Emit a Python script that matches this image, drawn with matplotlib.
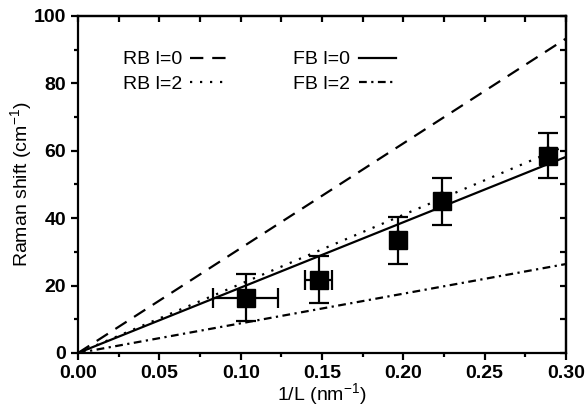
import numpy as np
import matplotlib
matplotlib.use("Agg")
import matplotlib.pyplot as plt
from matplotlib.ticker import MultipleLocator, FormatStrFormatter

plt.rcParams['font.family'] = ['Liberation Sans', 'DejaVu Sans']
plt.rcParams['mathtext.fontset'] = 'custom'
plt.rcParams['mathtext.rm'] = 'Liberation Sans'

# Measured points
inv_L = [0.103, 0.148, 0.197, 0.224, 0.289]
shift = [16.4, 21.8, 33.4, 45.0, 58.6]
shift_err = [7.0, 7.0, 7.0, 7.0, 6.7]
inv_L_err = [0.020, 0.0083, 0.0, 0.0, 0.0]

# Model lines: slope of Raman shift vs 1/L
line_labels = ['RB l=0', 'RB l=2', 'FB l=0', 'FB l=2']
line_slopes = [311, 205, 194, 88]
line_styles = [(0, (6, 4)), (0, (1, 3.5)), '-', (0, (3.5, 2, 1, 2))]

fig = plt.figure(figsize=(5.88, 4.13), dpi=100)
ax = fig.add_axes([0.1327, 0.1453, 0.8299, 0.816])

x = np.array([0.0, 0.30])
for lab, k, ls in zip(line_labels, line_slopes, line_styles):
    ax.plot(x, k * x, color='black', linestyle=ls, linewidth=1.6, label=lab)

ax.errorbar(inv_L, shift, yerr=shift_err, xerr=inv_L_err, fmt='s', color='black',
            markersize=12.5, elinewidth=1.6, capsize=7.5, capthick=1.6, zorder=5)

ax.set_xlim(0, 0.30)
ax.set_ylim(0, 100)
ax.xaxis.set_major_locator(MultipleLocator(0.05))
ax.xaxis.set_minor_locator(MultipleLocator(0.025))
ax.yaxis.set_major_locator(MultipleLocator(20))
ax.yaxis.set_minor_locator(MultipleLocator(10))
ax.xaxis.set_major_formatter(FormatStrFormatter('%.2f'))

ax.tick_params(which='both', direction='out', width=1.6, top=False, right=False)
ax.tick_params(which='major', length=5, labelsize=14)
ax.tick_params(which='minor', length=3)
for lbl in ax.get_xticklabels() + ax.get_yticklabels():
    lbl.set_fontweight('bold')

# inward ticks on the top and right sides
secx = ax.secondary_xaxis('top')
secx.xaxis.set_major_locator(MultipleLocator(0.025))
secx.tick_params(direction='in', length=4, width=1.6, labeltop=False)
secy = ax.secondary_yaxis('right')
secy.yaxis.set_major_locator(MultipleLocator(10))
secy.tick_params(direction='in', length=4, width=1.6, labelright=False)
for s in list(ax.spines.values()) + [secx.spines['top'], secy.spines['right']]:
    s.set_linewidth(1.6)

ax.set_xlabel(r'1/L (nm$^{\mathregular{-1}}$)', fontsize=14, labelpad=0)
ax.set_ylabel(r'Raman shift (cm$^{\mathregular{-1}}$)', fontsize=14, labelpad=-1)

ax.legend(loc='upper left', bbox_to_anchor=(0.092, 0.897), ncol=2, frameon=False,
          markerfirst=False, fontsize=14, handlelength=1.9, handletextpad=0.42,
          columnspacing=3.4, labelspacing=0.35, borderpad=0, borderaxespad=0)

fig.savefig('out.png', dpi=100)
